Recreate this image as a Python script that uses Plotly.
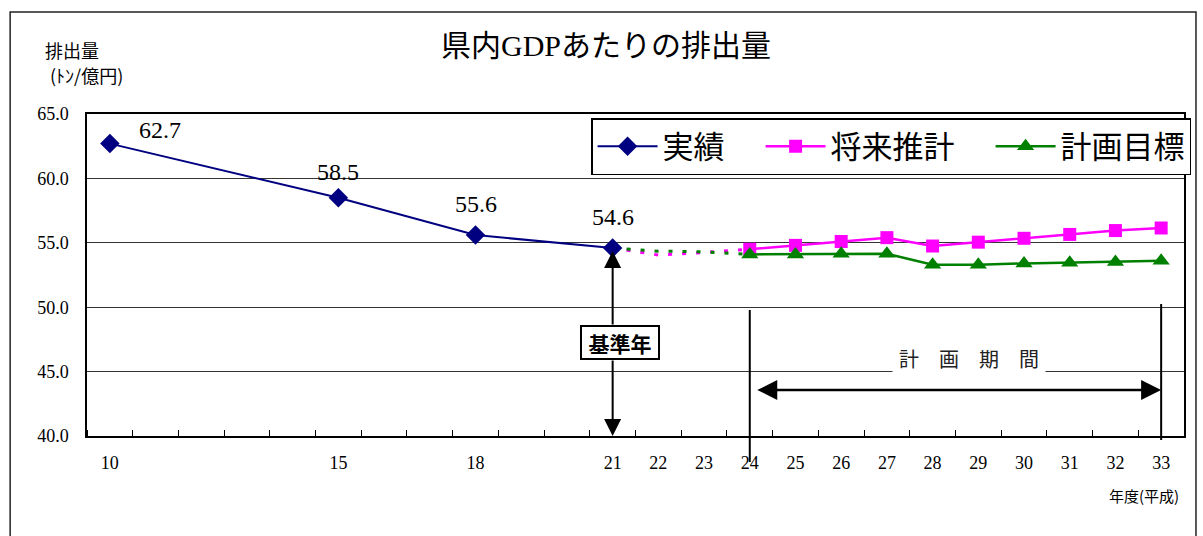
import plotly.graph_objects as go

# ---- data -------------------------------------------------------------
actual_years = [10, 15, 18, 21]
actual_vals = [62.7, 58.5, 55.6, 54.6]

plan_years = [24, 25, 26, 27, 28, 29, 30, 31, 32, 33]
forecast_vals = [54.5, 54.8, 55.1, 55.4, 54.75, 55.05, 55.35, 55.65, 55.95, 56.15]
target_vals = [54.1, 54.1, 54.15, 54.15, 53.3, 53.3, 53.4, 53.45, 53.5, 53.6]

# connecting (dotted) segments between the base year and the plan period
gap_years = [21, 22, 23, 24]
forecast_gap = [54.6, 54.05, 54.25, 54.5]
target_gap = [54.6, 54.35, 54.3, 54.1]

tick_years = [10, 15, 18] + list(range(21, 34))
tick_text = [str(v) for v in tick_years]

series_names = ["実績", "将来推計", "計画目標"]

BASE_YEAR = 21
PLAN_START, PLAN_END = 24, 33

# ---- layout geometry (pixels) ----------------------------------------
W, H = 1203, 536
L, R, T, B = 87, 1186, 114, 436
XR = [9.5, 33.5]
YR = [40, 65]

# value-label offsets (pixels) for the actual series
label_dx = [50, 0, 0, 0]
label_dy = [14, 26, 31, 31]


def px_x(p):
    return (p - L) / (R - L)


def px_y(p):
    return (B - p) / (B - T)


def y_at(p):
    return YR[1] - (p - T) / (B - T) * (YR[1] - YR[0])


def x_at(p):
    return XR[0] + (p - L) / (R - L) * (XR[1] - XR[0])


def xdom(v):
    return (v - XR[0]) / (XR[1] - XR[0])


NAVY = "#000080"
MAGENTA = "#FF00FF"
GREEN = "#008000"
NUM_FONT = "Liberation Serif, Noto Sans CJK JP"
JP_FONT = "Noto Sans CJK JP"
PAD = "\u3000"  # full-width space separating legend entries

fig = go.Figure()

fig.add_trace(go.Scatter(
    x=gap_years, y=forecast_gap, mode="lines",
    line=dict(color=MAGENTA, width=3, dash="4px,10px"),
    showlegend=False, hoverinfo="skip"))
fig.add_trace(go.Scatter(
    x=gap_years, y=target_gap, mode="lines",
    line=dict(color=GREEN, width=3, dash="4px,10px"),
    showlegend=False, hoverinfo="skip"))

fig.add_trace(go.Scatter(
    x=actual_years, y=actual_vals, name=series_names[0] + PAD, mode="lines+markers",
    line=dict(color=NAVY, width=2),
    marker=dict(symbol="diamond", size=15, color=NAVY)))
fig.add_trace(go.Scatter(
    x=plan_years, y=forecast_vals, name=series_names[1] + PAD, mode="lines+markers",
    line=dict(color=MAGENTA, width=2.5),
    marker=dict(symbol="square", size=13, color=MAGENTA)))
fig.add_trace(go.Scatter(
    x=plan_years, y=target_vals, name=series_names[2], mode="lines+markers",
    line=dict(color=GREEN, width=2.5),
    marker=dict(symbol="triangle-up", size=15, color=GREEN)))

shapes = [
    # outer chart frame
    dict(type="rect", xref="paper", yref="paper",
         x0=px_x(10), x1=px_x(1198), y0=px_y(560), y1=px_y(12),
         line=dict(color="#222222", width=1.5)),
    # plan period boundaries
    dict(type="line", xref="paper", yref="paper",
         x0=xdom(PLAN_START), x1=xdom(PLAN_START), y0=px_y(462), y1=px_y(310),
         line=dict(color="black", width=2)),
    dict(type="line", xref="paper", yref="paper",
         x0=xdom(PLAN_END), x1=xdom(PLAN_END), y0=px_y(440), y1=px_y(304),
         line=dict(color="black", width=2)),
]

annotations = [
    dict(text="排出量", xref="paper", yref="paper", x=px_x(72), y=px_y(50),
         xanchor="center", yanchor="middle", showarrow=False,
         font=dict(family=JP_FONT, size=18, color="black")),
    dict(text="(ﾄﾝ/億円)", xref="paper", yref="paper", x=px_x(86), y=px_y(75),
         xanchor="center", yanchor="middle", showarrow=False,
         font=dict(family=JP_FONT, size=18, color="black")),
    dict(text="年度(平成)", xref="paper", yref="paper", x=px_x(1183), y=px_y(495),
         xanchor="right", yanchor="middle", showarrow=False,
         font=dict(family=JP_FONT, size=15, color="black")),
    # base-year marker
    dict(text="<b>基準年</b>", x=BASE_YEAR, y=y_at(342), xshift=7, showarrow=False,
         xanchor="center", yanchor="middle", width=74, height=29,
         font=dict(family=JP_FONT, size=21, color="black"),
         bgcolor="white", bordercolor="black", borderwidth=2, borderpad=1),
    dict(text="", x=BASE_YEAR, y=y_at(251), ax=BASE_YEAR, ay=y_at(326),
         axref="x", ayref="y", showarrow=True, arrowhead=2, arrowsize=1.7,
         arrowwidth=2, arrowcolor="black"),
    dict(text="", x=BASE_YEAR, y=y_at(436), ax=BASE_YEAR, ay=y_at(359),
         axref="x", ayref="y", showarrow=True, arrowhead=2, arrowsize=1.7,
         arrowwidth=2, arrowcolor="black"),
    # plan period span
    dict(text="", x=PLAN_END, y=y_at(390), ax=x_at(757), ay=y_at(390),
         axref="x", ayref="y", showarrow=True, arrowhead=2, startarrowhead=2,
         arrowside="end+start", arrowsize=1.6, startarrowsize=1.6,
         arrowwidth=2.5, arrowcolor="black"),
    dict(text="計　画　期　間", x=x_at(971), y=y_at(358), showarrow=False,
         xanchor="center", yanchor="middle", width=150, bgcolor="white",
         font=dict(family=JP_FONT, size=20, color="#222222")),
]

# value labels for the actual series, taken from the plotted values
for xv, yv, dx, dy in zip(actual_years, actual_vals, label_dx, label_dy):
    annotations.append(dict(
        text=f"{yv:.1f}", x=xv, y=yv, xshift=dx, yshift=dy, showarrow=False,
        xanchor="center", yanchor="middle",
        font=dict(family=NUM_FONT, size=24, color="black")))

fig.update_layout(
    width=W, height=H,
    margin=dict(l=L, r=W - R, t=T, b=H - B),
    paper_bgcolor="white", plot_bgcolor="white",
    title=dict(text="県内GDPあたりの排出量", x=606 / W, y=1 - 45 / H,
               xanchor="center", yanchor="middle",
               font=dict(family=NUM_FONT, size=30, color="black")),
    xaxis=dict(range=XR, tickmode="array", tickvals=tick_years, ticktext=tick_text,
               ticks="", showgrid=False, zeroline=False,
               showline=True, linecolor="black", linewidth=1.5, mirror=True,
               ticklabelstandoff=10,
               tickfont=dict(family=NUM_FONT, size=18, color="black"),
               minor=dict(ticks="inside", ticklen=6, tickcolor="black",
                          tickmode="linear", tick0=9.5, dtick=1, showgrid=False)),
    yaxis=dict(range=YR, dtick=5, tickformat=".1f", ticks="",
               showgrid=True, gridcolor="#333333", gridwidth=1, zeroline=False,
               showline=True, linecolor="black", linewidth=1.5, mirror=True,
               ticklabelstandoff=13,
               tickfont=dict(family=NUM_FONT, size=18, color="black")),
    legend=dict(orientation="h", x=px_x(592), y=px_y(118),
                xanchor="left", yanchor="top",
                bgcolor="white", bordercolor="black", borderwidth=1.5,
                font=dict(family=JP_FONT, size=31, color="black"),
                itemwidth=60),
    shapes=shapes, annotations=annotations,
    showlegend=True,
)

fig.write_html("out.html")
